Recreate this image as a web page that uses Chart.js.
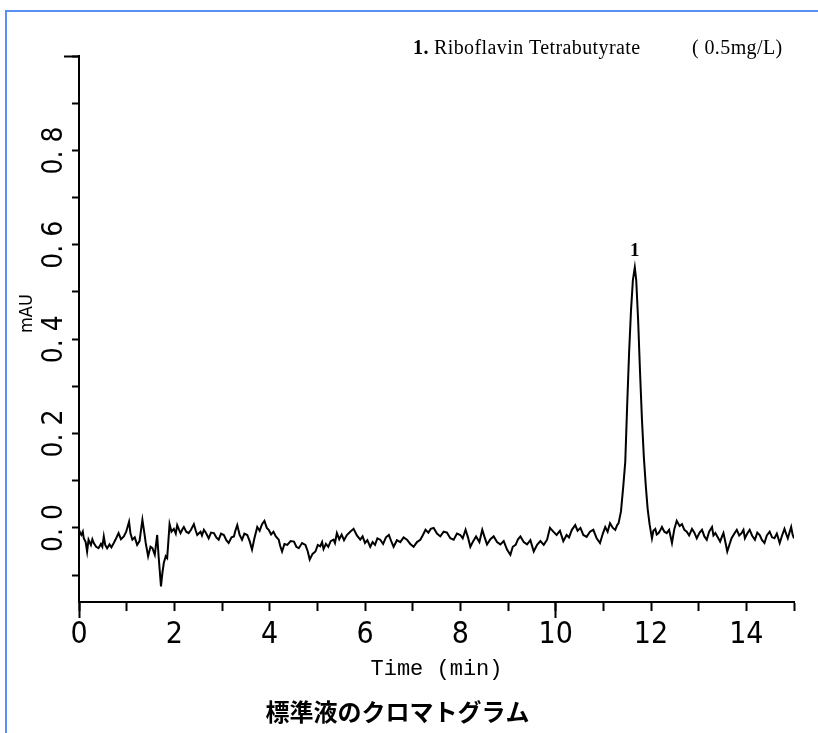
<!DOCTYPE html>
<html><head><meta charset="utf-8">
<script src="https://cdn.jsdelivr.net/npm/chart.js@4/dist/chart.umd.min.js"></script>
<style>
html,body{margin:0;padding:0;background:#fff;}
#wrap{position:relative;width:818px;height:733px;overflow:hidden;background:#fff;}
#frame{position:absolute;left:5px;top:10px;width:830px;height:740px;border-left:2px solid #5b8ef5;border-top:2px solid #5b8ef5;}
canvas{position:absolute;left:0;top:0;}
</style></head>
<body><div id="wrap"><div id="frame"></div><canvas id="c" width="818" height="733"></canvas></div>
<script>
// ---- data ----
const times = [
 0.00,0.03,0.05,0.08,0.10,0.14,0.17,0.20,0.25,0.28,
 0.31,0.36,0.41,0.46,0.49,0.52,0.55,0.59,0.64,0.68,
 0.73,0.78,0.83,0.88,0.94,0.99,1.05,1.08,1.12,1.17,
 1.22,1.27,1.33,1.37,1.40,1.45,1.50,1.54,1.59,1.64,
 1.67,1.72,1.75,1.78,1.82,1.85,1.90,1.94,1.99,2.03,
 2.06,2.10,2.13,2.17,2.20,2.25,2.30,2.35,2.41,2.45,
 2.48,2.55,2.58,2.62,2.67,2.72,2.77,2.83,2.88,2.93,
 2.98,3.04,3.09,3.14,3.20,3.25,3.28,3.32,3.37,3.42,
 3.47,3.53,3.58,3.63,3.68,3.74,3.79,3.84,3.89,3.94,
 3.98,4.03,4.08,4.13,4.19,4.22,4.26,4.31,4.37,4.44,
 4.51,4.56,4.61,4.68,4.75,4.80,4.84,4.90,4.96,5.01,
 5.06,5.10,5.13,5.18,5.23,5.28,5.34,5.37,5.41,5.46,
 5.51,5.56,5.62,5.69,5.76,5.83,5.90,5.95,6.00,6.05,
 6.11,6.16,6.21,6.26,6.32,6.38,6.44,6.50,6.55,6.60,
 6.67,6.74,6.81,6.88,6.95,7.02,7.09,7.16,7.21,7.27,
 7.33,7.38,7.44,7.51,7.58,7.65,7.72,7.79,7.86,7.93,
 8.00,8.05,8.11,8.16,8.21,8.27,8.33,8.40,8.46,8.51,
 8.56,8.63,8.70,8.77,8.84,8.91,8.98,9.05,9.10,9.16,
 9.21,9.26,9.33,9.40,9.47,9.54,9.61,9.68,9.75,9.82,
 9.88,9.95,10.02,10.09,10.16,10.23,10.28,10.34,10.41,10.46,
 10.52,10.58,10.65,10.72,10.79,10.86,10.93,10.99,11.04,11.09,
 11.14,11.20,11.25,11.29,11.32,11.37,11.42,11.46,11.50,11.54,
 11.58,11.62,11.66,11.69,11.73,11.77,11.81,11.85,11.89,11.93,
 11.97,12.02,12.05,12.09,12.12,12.16,12.20,12.23,12.28,12.33,
 12.38,12.44,12.49,12.54,12.60,12.65,12.70,12.75,12.80,12.86,
 12.91,12.96,13.02,13.07,13.12,13.17,13.22,13.28,13.31,13.35,
 13.40,13.45,13.49,13.52,13.56,13.60,13.65,13.69,13.75,13.80,
 13.85,13.90,13.94,13.97,14.02,14.07,14.12,14.18,14.23,14.28,
 14.33,14.38,14.43,14.49,14.54,14.59,14.64,14.70,14.75,14.80,
 14.84,14.87,14.91,14.94,14.97,15.00
];
const values = [
 -0.004,-0.012,-0.015,-0.008,-0.022,-0.030,-0.050,-0.025,-0.036,-0.024,
 -0.032,-0.040,-0.043,-0.034,-0.040,-0.018,-0.036,-0.043,-0.035,-0.041,
 -0.032,-0.022,-0.011,-0.024,-0.018,-0.008,0.013,-0.012,-0.025,-0.020,
 -0.036,-0.028,0.017,-0.010,-0.032,-0.060,-0.040,-0.043,-0.057,-0.015,
 -0.060,-0.124,-0.095,-0.074,-0.060,-0.064,0.008,-0.008,-0.002,-0.012,
 0.006,-0.004,-0.011,-0.003,0.002,-0.008,-0.011,-0.004,0.008,-0.006,
 -0.015,-0.008,-0.016,-0.004,-0.012,-0.022,-0.010,-0.011,-0.020,-0.025,
 -0.012,-0.015,-0.026,-0.032,-0.020,-0.018,-0.006,0.006,-0.015,-0.025,
 -0.012,-0.015,-0.028,-0.046,-0.022,0.002,-0.006,0.008,0.015,0.000,
 -0.004,-0.014,-0.008,-0.018,-0.025,-0.038,-0.050,-0.034,-0.036,-0.028,
 -0.029,-0.040,-0.043,-0.032,-0.036,-0.050,-0.067,-0.055,-0.050,-0.036,
 -0.039,-0.030,-0.045,-0.034,-0.040,-0.028,-0.025,-0.032,-0.011,-0.024,
 -0.014,-0.026,-0.015,-0.008,-0.002,-0.016,-0.025,-0.018,-0.032,-0.026,
 -0.040,-0.030,-0.036,-0.022,-0.025,-0.034,-0.020,-0.015,-0.028,-0.040,
 -0.026,-0.030,-0.020,-0.025,-0.034,-0.040,-0.030,-0.025,-0.016,-0.004,
 -0.010,-0.002,0.000,-0.012,-0.018,-0.008,-0.010,-0.022,-0.025,-0.012,
 -0.015,-0.022,-0.004,-0.020,-0.040,-0.028,-0.018,-0.030,-0.004,-0.020,
 -0.035,-0.024,-0.018,-0.030,-0.035,-0.028,-0.046,-0.057,-0.040,-0.036,
 -0.024,-0.018,-0.030,-0.035,-0.026,-0.050,-0.036,-0.028,-0.036,-0.025,
 0.000,-0.008,-0.015,-0.006,-0.028,-0.015,-0.020,-0.004,0.006,-0.006,
 0.000,-0.015,-0.019,-0.008,-0.004,-0.022,-0.032,-0.012,0.002,-0.008,
 0.010,0.000,-0.004,0.006,0.010,0.035,0.090,0.140,0.260,0.370,
 0.460,0.525,0.552,0.525,0.440,0.330,0.230,0.150,0.090,0.040,
 0.008,-0.022,-0.006,-0.002,-0.014,-0.011,-0.004,0.002,-0.008,-0.011,
 -0.004,-0.032,-0.002,0.015,0.004,0.008,-0.004,-0.008,-0.016,-0.002,
 -0.010,-0.022,-0.010,-0.004,-0.018,-0.025,-0.008,0.002,-0.016,-0.011,
 -0.020,-0.029,-0.018,-0.011,-0.030,-0.050,-0.034,-0.022,-0.012,-0.004,
 -0.016,-0.011,-0.004,-0.022,-0.012,-0.004,-0.016,-0.025,-0.010,-0.015,
 -0.026,-0.032,-0.016,-0.008,-0.020,-0.022,-0.012,-0.032,-0.016,-0.002,
 -0.014,-0.022,-0.008,0.002,-0.014,-0.022
];
const xTickValues = [0,1,2,3,4,5,6,7,8,9,10,11,12,13,14,15];
const xLabelledTicks = [0,2,4,6,8,10,12,14];
const xLongTicks = [0,10];
const yTickValues = [-0.1,0.0,0.1,0.2,0.3,0.4,0.5,0.6,0.7,0.8,0.9,1.0];
const yLabelledTicks = [0.0,0.2,0.4,0.6,0.8];
const yLongTicks = [1.0];
const peakTimes = [11.66];
const peakValues = [0.552];
const peakNames = ['1'];
const legendNumber = '1.';
const legendName = 'Riboflavin Tetrabutyrate';
const legendConc = '( 0.5mg/L)';
const xTitle = 'Time (min)';
const yTitle = 'mAU';
const chartTitle = '標準液のクロマトグラム';

const NARROW = '"Liberation Sans Narrow", "DejaVu Sans Condensed", "Liberation Sans", sans-serif';

const points = times.map((t, i) => ({x: t, y: values[i]}));

const annot = {
  id: 'annot',
  afterDraw(chart) {
    const ctx = chart.ctx;
    const xs = chart.scales.x, ys = chart.scales.y;
    ctx.save();
    ctx.fillStyle = '#000';
    ctx.textBaseline = 'alphabetic';
    ctx.textAlign = 'left';
    try { ctx.letterSpacing = '0.4px'; } catch (e) {}
    ctx.font = 'bold 20px "Liberation Serif", serif';
    ctx.fillText(legendNumber, 413, 54);
    ctx.font = '20px "Liberation Serif", serif';
    ctx.fillText(legendName, 434, 54);
    ctx.fillText(legendConc, 692, 54);
    try { ctx.letterSpacing = '0px'; } catch (e) {}
    ctx.textAlign = 'center';
    ctx.font = 'bold 19px "Liberation Serif", serif';
    peakNames.forEach((n, i) => {
      const px = xs.getPixelForValue(peakTimes[i]);
      const py = ys.getPixelForValue(peakValues[i]);
      ctx.fillText(n, px, py - 11);
    });
    ctx.restore();
  }
};

new Chart(document.getElementById('c'), {
  type: 'line',
  data: {
    datasets: [{
      data: points,
      borderColor: '#000',
      borderWidth: 2,
      pointRadius: 0,
      tension: 0,
      fill: false,
      xAxisID: 'x',
      yAxisID: 'y'
    }]
  },
  options: {
    responsive: false,
    devicePixelRatio: 1,
    animation: false,
    layout: {padding: {left: 1, right: 24, top: 56, bottom: 0}},
    plugins: {
      legend: {display: false},
      tooltip: {enabled: false},
      title: {
        display: true,
        position: 'bottom',
        text: chartTitle,
        color: '#000',
        font: {family: '"Noto Sans CJK JP", sans-serif', size: 24, weight: 'bold'},
        padding: {top: 0, bottom: 6.6}
      }
    },
    scales: {
      x: {
        type: 'linear', position: 'bottom', min: 0, max: 15, weight: 0,
        afterBuildTicks: s => { s.ticks = xTickValues.map(v => ({value: v})); },
        afterFit: s => { s.height = 95.6; },
        ticks: {
          autoSkip: false, maxRotation: 0, minRotation: 0, padding: 6, color: '#000',
          font: {family: NARROW, size: 30},
          callback: v => xLabelledTicks.includes(v) ? String(v) : ''
        },
        grid: {drawOnChartArea: false, drawTicks: true, tickLength: 9, tickWidth: 2, tickColor: '#000'},
        border: {display: true, color: '#000', width: 2},
        title: {display: true, text: xTitle, color: '#000',
          font: {family: '"Liberation Mono", "DejaVu Sans Mono", monospace', size: 22},
          padding: {top: 0, bottom: 15}}
      },
      x2: {
        type: 'linear', position: 'bottom', min: 0, max: 15, weight: -1,
        afterBuildTicks: s => { s.ticks = xLongTicks.map(v => ({value: v})); },
        afterFit: s => { s.height = 0; },
        ticks: {display: false},
        grid: {drawOnChartArea: false, drawTicks: true, tickLength: 16, tickWidth: 2, tickColor: '#000'},
        border: {display: false}
      },
      y: {
        type: 'linear', position: 'left', min: -0.157, max: 1.0, weight: 0,
        afterBuildTicks: s => { s.ticks = yTickValues.map(v => ({value: v})); },
        afterFit: s => { s.width = 78; },
        ticks: {
          autoSkip: false, minRotation: 90, maxRotation: 90, crossAlign: 'center', padding: -7, color: '#000',
          font: {family: NARROW, size: 28},
          callback: v => yLabelledTicks.some(l => Math.abs(l - v) < 1e-6) ? v.toFixed(1).replace('.', '. ') : ''
        },
        grid: {drawOnChartArea: false, drawTicks: true, tickLength: 7, tickWidth: 2, tickColor: '#000'},
        border: {display: true, color: '#000', width: 2},
        title: {display: true, text: '      ' + yTitle, color: '#000',
          font: {family: NARROW, size: 18},
          padding: {top: 16, bottom: 0}}
      },
      y2: {
        type: 'linear', position: 'left', min: -0.157, max: 1.0, weight: -1,
        afterBuildTicks: s => { s.ticks = yLongTicks.map(v => ({value: v})); },
        afterFit: s => { s.width = 0; },
        ticks: {display: false},
        grid: {drawOnChartArea: false, drawTicks: true, tickLength: 15, tickWidth: 2, tickColor: '#000'},
        border: {display: false}
      }
    }
  },
  plugins: [annot]
});
</script>
</body></html>
